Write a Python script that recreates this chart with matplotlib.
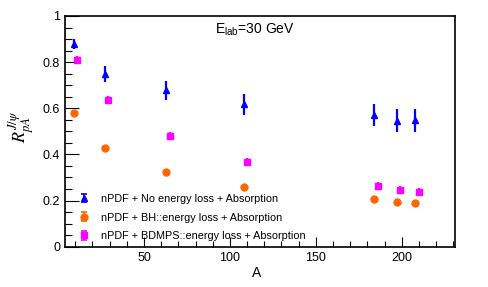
import numpy as np
import matplotlib
matplotlib.use('Agg')
import matplotlib.pyplot as plt
from matplotlib.ticker import MultipleLocator, FuncFormatter
from matplotlib.legend_handler import HandlerErrorbar

plt.rcParams['font.family'] = ['Liberation Sans', 'DejaVu Sans']
plt.rcParams['mathtext.fontset'] = 'custom'
plt.rcParams['mathtext.rm'] = 'Liberation Sans'

# mass numbers of the targets
A = np.array([9, 27, 63, 108, 184, 197, 208])

# nPDF + No energy loss + Absorption
r_noel = [0.880, 0.748, 0.678, 0.617, 0.570, 0.546, 0.548]
e_noel = [0.022, 0.036, 0.040, 0.046, 0.048, 0.050, 0.050]
# nPDF + BH::energy loss + Absorption
r_bh = [0.578, 0.427, 0.325, 0.260, 0.205, 0.195, 0.188]
e_bh = [0.010, 0.010, 0.010, 0.010, 0.010, 0.010, 0.010]
# nPDF + BDMPS::energy loss + Absorption
r_bdmps = [0.809, 0.636, 0.480, 0.366, 0.263, 0.246, 0.236]
e_bdmps = [0.016, 0.018, 0.018, 0.018, 0.018, 0.017, 0.017]

labels = ['nPDF + No energy loss + Absorption',
          'nPDF + BH::energy loss + Absorption',
          'nPDF + BDMPS::energy loss + Absorption']
colors = ['#0000ff', '#ff6600', '#ff00ff']
markers = ['^', 'o', 's']

fig = plt.figure(figsize=(4.88, 2.87), dpi=100)
ax = fig.add_axes([0.1332, 0.1404, 0.7992, 0.8039])

kw = dict(ls='none', elinewidth=1.6, capsize=0, ms=5)
ax.errorbar(A, r_noel, yerr=e_noel, fmt=markers[0], color=colors[0], **kw)
ax.errorbar(A, r_bh, yerr=e_bh, fmt=markers[1], color=colors[1], **kw)
ax.errorbar(A + 2, r_bdmps, yerr=e_bdmps, fmt=markers[2], color=colors[2], **kw)

# legend proxies: ROOT style entries with capped error bars
handles = [ax.errorbar([np.nan], [np.nan], yerr=[0.1], fmt=m, color=c,
                       ms=5, elinewidth=1.2, capsize=2, capthick=1.2)
           for m, c in zip(markers, colors)]

ax.set_xlim(4, 231)
ax.set_ylim(0, 1)
ax.xaxis.set_major_locator(MultipleLocator(50))
ax.xaxis.set_minor_locator(MultipleLocator(10))
ax.yaxis.set_major_locator(MultipleLocator(0.2))
ax.yaxis.set_minor_locator(MultipleLocator(0.05))
ax.yaxis.set_major_formatter(FuncFormatter(lambda v, p: f'{v:g}'))
ax.tick_params(which='both', direction='in', top=False, right=False,
               labelsize=9, width=0.8)
ax.tick_params(which='major', length=10)
ax.tick_params(which='minor', length=5)
ax.tick_params(axis='x', which='major', length=7)
ax.tick_params(axis='x', which='minor', length=4)
for s in ax.spines.values():
    s.set_linewidth(1.2)

ax.set_xlabel('A', fontsize=10)
ax.xaxis.set_label_coords(0.49, -0.085)
fig.text(0.045, 0.56, r'$R_{pA}^{J/\psi}$', rotation=90, fontsize=13,
         ha='center', va='center', math_fontfamily='stix')

ax.text(0.385, 0.94, r'E$_{\rm lab}$=30 GeV', transform=ax.transAxes,
        fontsize=10, ha='left', va='center')

ax.legend(handles, labels, loc='lower left', fontsize=7.8,
          frameon=False, handlelength=1.0, handletextpad=1.1,
          labelspacing=0.8, borderaxespad=0.1,
          bbox_to_anchor=(0.02, 0.0),
          handler_map={type(handles[0]): HandlerErrorbar(yerr_size=0.4)})

fig.savefig('out.png', dpi=100)
